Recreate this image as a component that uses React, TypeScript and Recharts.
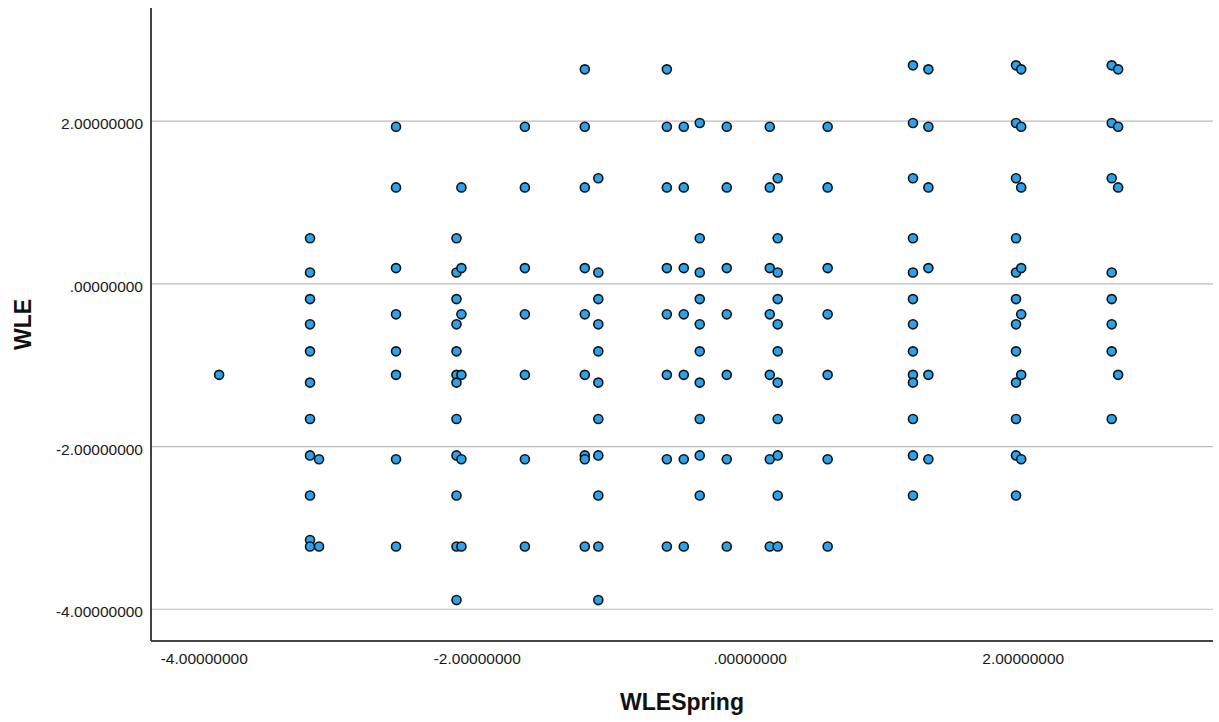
import { ScatterChart, Scatter, XAxis, YAxis, CartesianGrid } from 'recharts'

// WLESpring columns (x) and the WLE values found in each column (y)
const springValues = [
  -3.891, -3.225, -3.159, -2.595, -2.152, -2.116, -1.651, -1.212, -1.113, -0.611, -0.487,
  -0.370, -0.172, 0.143, 0.201, 0.567, 1.192, 1.305, 1.947, 1.985, 2.648, 2.695,
]

const wleColumns: number[][] = [
  [-1.119],
  [0.560, 0.139, -0.188, -0.498, -0.830, -1.214, -1.661, -2.109, -2.601, -3.149, -3.229],
  [-2.156, -3.229],
  [1.931, 1.185, 0.193, -0.375, -0.830, -1.119, -2.156, -3.229],
  [0.560, 0.139, -0.188, -0.498, -0.830, -1.119, -1.214, -1.661, -2.109, -2.601, -3.229, -3.887],
  [1.185, 0.193, -0.375, -1.119, -2.156, -3.229],
  [1.931, 1.185, 0.193, -0.375, -1.119, -2.156, -3.229],
  [2.636, 1.931, 1.185, 0.193, -0.375, -1.119, -2.109, -2.156, -3.229],
  [1.298, 0.139, -0.188, -0.498, -0.830, -1.214, -1.661, -2.109, -2.601, -3.229, -3.887],
  [2.636, 1.931, 1.185, 0.193, -0.375, -1.119, -2.156, -3.229],
  [1.931, 1.185, 0.193, -0.375, -1.119, -2.156, -3.229],
  [1.977, 0.560, 0.139, -0.188, -0.498, -0.830, -1.214, -1.661, -2.109, -2.601],
  [1.931, 1.185, 0.193, -0.375, -1.119, -2.156, -3.229],
  [1.931, 1.185, 0.193, -0.375, -1.119, -2.156, -3.229],
  [1.298, 0.560, 0.139, -0.188, -0.498, -0.830, -1.214, -1.661, -2.109, -2.601, -3.229],
  [1.931, 1.185, 0.193, -0.375, -1.119, -2.156, -3.229],
  [2.685, 1.977, 1.298, 0.560, 0.139, -0.188, -0.498, -0.830, -1.119, -1.214, -1.661, -2.109, -2.601],
  [2.636, 1.931, 1.185, 0.193, -1.119, -2.156],
  [2.685, 1.977, 1.298, 0.560, 0.139, -0.188, -0.498, -0.830, -1.214, -1.661, -2.109, -2.601],
  [2.636, 1.931, 1.185, 0.193, -0.375, -1.119, -2.156],
  [2.685, 1.977, 1.298, 0.139, -0.188, -0.498, -0.830, -1.661],
  [2.636, 1.931, 1.185, -1.119],
]

const axisTicks = [-4, -2, 0, 2]
const axisDomain: [number, number] = [-4.39, 3.39]

const points = springValues.flatMap((x, i) => wleColumns[i].map((y) => ({ spring: x, wle: y })))

const FONT = '"Liberation Sans", Arial, sans-serif'

const fmt = (v: number) => (v === 0 ? '.00000000' : v.toFixed(8))

// grid only at the tick values, not at the plot edges
const gridRows = ({ yAxis, offset }: any) =>
  axisTicks.map((t) => {
    if (yAxis && typeof yAxis.scale === 'function') return yAxis.scale(t)
    const [lo, hi] = axisDomain
    return offset.top + ((hi - t) / (hi - lo)) * offset.height
  })

const XTick = ({ x, y, payload }: any) => (
  <text x={x} y={y} dy={15} textAnchor="middle" fill="#1a1a1a" fontSize={15.5} fontFamily={FONT}>
    {fmt(payload.value)}
  </text>
)

const YTick = ({ x, y, payload }: any) => (
  <text x={x} y={y} dy={8} textAnchor="end" fill="#1a1a1a" fontSize={15.5} fontFamily={FONT}>
    {fmt(payload.value)}
  </text>
)

const XTitle = ({ viewBox }: any) => (
  <text
    x={viewBox.x + viewBox.width / 2}
    y={viewBox.y + viewBox.height - 12}
    textAnchor="middle"
    fill="#111"
    fontSize={23}
    fontWeight="bold"
    fontFamily={FONT}
  >
    WLESpring
  </text>
)

const YTitle = ({ viewBox }: any) => (
  <text
    transform={`translate(${viewBox.x + 31}, ${viewBox.y + viewBox.height / 2}) rotate(-90)`}
    textAnchor="middle"
    fill="#111"
    fontSize={23}
    fontWeight="bold"
    fontFamily={FONT}
  >
    WLE
  </text>
)

export default function App() {
  return (
    <div style={{ position: 'absolute', left: 0, top: 0, width: 1219, height: 722, background: '#fff' }}>
      <ScatterChart width={1219} height={722} margin={{ top: 8, right: 6, left: 0, bottom: 0 }}>
        <CartesianGrid
          vertical={false}
          stroke="#bcbcbc"
          strokeWidth={1.2}
          horizontalCoordinatesGenerator={gridRows}
        />
        <XAxis
          type="number"
          dataKey="spring"
          domain={axisDomain}
          ticks={axisTicks}
          allowDataOverflow
          height={81}
          tickLine={false}
          axisLine={{ stroke: '#444', strokeWidth: 2 }}
          tick={<XTick />}
          label={{ content: <XTitle /> }}
        />
        <YAxis
          type="number"
          dataKey="wle"
          domain={axisDomain}
          ticks={axisTicks}
          allowDataOverflow
          width={151}
          tickLine={false}
          axisLine={{ stroke: '#444', strokeWidth: 2 }}
          tick={<YTick />}
          label={{ content: <YTitle /> }}
        />
        <Scatter
          data={points}
          fill="#2ba2ec"
          stroke="#111"
          strokeWidth={1.6}
          isAnimationActive={false}
        />
      </ScatterChart>
    </div>
  )
}
